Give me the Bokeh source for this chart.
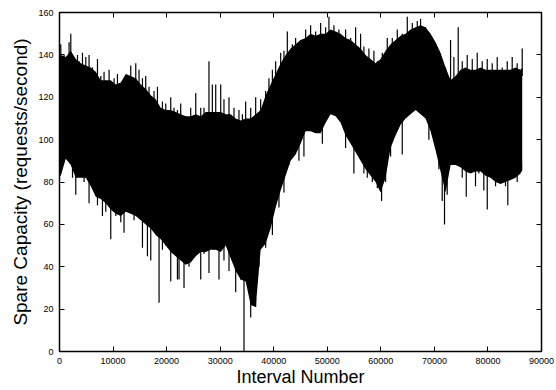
import numpy as np
from bokeh.plotting import figure
from bokeh.models import LinearAxis, Range1d, FixedTicker, ColumnDataSource, CustomLabelingPolicy
from bokeh.embed import file_html
from bokeh.resources import INLINE

# ---- data (interval number, spare capacity) ----
env_x = [0, 240, 1170, 2110, 3040, 3975, 4910, 5840, 6770, 7700, 8640,
         9570, 10500, 11440, 12370, 13300, 14240, 15170, 16100, 17040, 17970,
         18900, 19840, 20770, 21700, 22640, 23570, 24500, 25440, 26370, 27300,
         28240, 29170, 30100, 31040, 31960, 32900, 33830, 34760, 35700, 36640,
         37560, 38500, 39420, 40360, 41300, 42220, 43160, 44090, 45020, 45960,
         46890, 47820, 48760, 49690, 50620, 51560, 52490, 53420, 54360, 55290,
         56220, 57150, 58090, 59020, 59950, 60890, 61820, 62750, 63690, 64620,
         65550, 66490, 67420, 68350, 69290, 70220, 71150, 72090, 73020, 73950,
         74880, 75820, 76750, 77680, 78620, 79550, 80480, 81420, 82350, 83280,
         84220, 85150, 86080, 86400]
# dense part of the band (top edge)
upper = [139, 140, 139, 142, 138, 136, 135, 134, 132, 128, 128,
         128, 126, 127, 131, 130, 129, 126, 124, 121, 119,
         115, 114, 114, 113, 112, 111, 111, 112, 111, 113,
         113, 113, 113, 112, 112, 110, 109, 110, 110, 112,
         114, 121, 126, 131, 136, 140, 143, 145, 147, 148,
         150, 149, 150, 150, 152, 151, 150, 148, 147, 145,
         143, 140, 138, 136, 138, 142, 145, 147, 149, 150,
         152, 153, 154, 153, 150, 146, 141, 134, 128, 130,
         133, 134, 133, 133, 134, 133, 133, 133, 133, 133,
         133, 134, 133, 134]
# dense part of the band (bottom edge)
lower = [83, 83, 91, 88, 82, 82, 82, 78, 73, 72, 70,
         67, 65, 64, 66, 65, 64, 62, 60, 58, 55,
         53, 50, 47, 45, 43, 41, 42, 45, 47, 47,
         48, 48, 47, 50, 44, 38, 34, 33, 22, 21,
         48, 51, 58, 68, 76, 83, 90, 93, 98, 104,
         104, 103, 103, 108, 112, 111, 108, 102, 98, 94,
         90, 86, 83, 80, 75, 82, 96, 102, 107, 110,
         112, 114, 112, 110, 104, 95, 85, 75, 88, 88,
         87, 85, 84, 85, 85, 83, 82, 80, 79, 80,
         81, 82, 84, 86]

# upward spikes: position and highest value
high_spike_x = [240, 860, 1790, 2110, 2720, 3360, 3660, 4290, 4910, 5520,
                6160, 7090, 7710, 8320, 9260, 10190, 10820, 12050, 12690, 13300,
                14240, 14850, 15490, 16100, 16720, 17650, 18290, 19220, 19840, 20770,
                21380, 22020, 22630, 23570, 24500, 25440, 26370, 26980, 27910, 28540,
                29170, 30100, 30710, 31650, 32580, 33510, 34150, 34760, 35700, 36630,
                37560, 38500, 39110, 39750, 40360, 41300, 41910, 42540, 43480, 44090,
                45030, 45960, 46890, 47830, 48760, 49690, 50310, 51240, 52170, 53420,
                54360, 55290, 56220, 56840, 57770, 58710, 59340, 60270, 61200, 62140,
                63070, 64000, 64940, 65870, 66800, 67420, 68350, 69290, 70220, 71150,
                72090, 73020, 73640, 74450, 75200, 76130, 77070, 78000, 78930, 79870,
                80800, 81730, 82670, 83600, 84530, 85460, 86400]
high_spike_v = [145, 140, 146, 150, 139, 140, 137, 141, 139, 140,
                134, 138, 130, 132, 133, 129, 131, 129, 128, 135,
                136, 133, 129, 130, 125, 123, 125, 118, 117, 120,
                115, 114, 117, 111, 115, 122, 115, 115, 137, 126,
                126, 126, 119, 120, 115, 114, 112, 118, 115, 120,
                119, 123, 129, 133, 137, 141, 142, 151, 145, 148,
                147, 152, 154, 151, 155, 153, 158, 154, 152, 152,
                148, 153, 150, 144, 143, 142, 137, 141, 148, 148,
                152, 150, 158, 155, 156, 157, 153, 148, 145, 139,
                134, 147, 139, 153, 137, 140, 138, 141, 137, 138,
                136, 139, 134, 137, 139, 136, 143]
# downward spikes: position and lowest value
low_spike_x = [2430, 3040, 4590, 5520, 6160, 7090, 8020, 8640, 9570, 10510,
               11440, 12050, 12990, 13920, 14850, 15490, 16420, 17040, 17650, 18590,
               19220, 19840, 20770, 21380, 22020, 22320, 23250, 24180, 25120, 26370,
               26980, 27910, 28850, 29780, 30710, 31650, 32900, 33830, 34450, 35700,
               36630, 37250, 38500, 39750, 40980, 41910, 42840, 44710, 45640, 49080,
               53420, 54970, 56840, 57470, 58410, 59340, 60140, 60890, 61820, 64000,
               68970, 70840, 71460, 71890, 72390, 73320, 75200, 75950, 76750, 77680,
               78300, 79230, 79870, 80480, 81420, 82350, 83280, 83710, 84530, 85460,
               86270]
low_spike_v = [82, 74, 80, 70, 77, 69, 64, 66, 53, 64,
               61, 56, 66, 62, 63, 49, 45, 43, 58, 23,
               48, 50, 33, 47, 34, 34, 30, 40, 46, 34,
               46, 37, 48, 34, 43, 38, 28, 34, 0, 16,
               21, 40, 49, 55, 68, 75, 88, 90, 92, 98,
               96, 84, 84, 82, 80, 77, 71, 80, 92, 93,
               100, 86, 71, 60, 74, 88, 82, 73, 85, 78,
               84, 76, 67, 83, 78, 82, 78, 69, 82, 80,
               85]

x_ticks = [0, 10000, 20000, 30000, 40000, 50000, 60000, 70000, 80000, 90000]
y_ticks = [0, 20, 40, 60, 80, 100, 120, 140, 160]

FONT = "Liberation Sans"

p = figure(frame_width=482, frame_height=339,
           x_range=Range1d(0, 90000), y_range=Range1d(0, 160),
           output_backend="svg", toolbar_location=None,
           min_border_left=59, min_border_right=15, min_border_top=12, min_border_bottom=39)
p.background_fill_color = "white"
p.border_fill_color = "white"
p.outline_line_color = "black"
p.outline_line_width = 1.5
p.grid.visible = False

src = ColumnDataSource(dict(x=env_x, lo=lower, hi=upper))
p.varea(x="x", y1="lo", y2="hi", source=src, fill_color="black")

lo_base = np.minimum(np.interp(low_spike_x, env_x, lower) + 4, 150)
hi_base = np.interp(high_spike_x, env_x, upper) - 4
p.segment(x0=low_spike_x, y0=list(lo_base), x1=low_spike_x, y1=low_spike_v,
          line_color="black", line_width=1.2)
p.segment(x0=high_spike_x, y0=list(hi_base), x1=high_spike_x, y1=high_spike_v,
          line_color="black", line_width=1.2)

def style(ax, labels=True):
    ax.major_tick_in = 5
    ax.major_tick_out = 0
    ax.minor_tick_line_color = None
    ax.axis_line_color = None
    ax.major_tick_line_color = "black"
    ax.major_tick_line_width = 1
    if labels:
        ax.major_label_text_font = FONT
        ax.major_label_text_font_size = "9px"
        ax.major_label_text_color = "black"
        ax.axis_label_text_font = FONT
        ax.axis_label_text_font_style = "normal"
        ax.axis_label_text_color = "black"
    else:
        ax.major_label_standoff = 0
        ax.major_label_text_font_size = "1px"
        ax.major_label_policy = CustomLabelingPolicy(
            code="for (let i = 0; i < indices.size; i++) { indices.unset(i) } return indices")

p.xaxis.ticker = FixedTicker(ticks=x_ticks)
p.yaxis.ticker = FixedTicker(ticks=y_ticks)
p.xaxis.axis_label = "Interval Number"
p.yaxis.axis_label = "Spare Capacity (requests/second)"
style(p.xaxis[0])
style(p.yaxis[0])
p.xaxis.axis_label_text_font_size = "18px"
p.yaxis.axis_label_text_font_size = "19px"
p.xaxis.major_label_standoff = 6
p.yaxis.major_label_standoff = 6
p.xaxis.axis_label_standoff = 0
p.yaxis.axis_label_standoff = 4

top = LinearAxis(ticker=FixedTicker(ticks=x_ticks))
style(top, labels=False)
p.add_layout(top, "above")
right = LinearAxis(ticker=FixedTicker(ticks=y_ticks))
style(right, labels=False)
p.add_layout(right, "right")

open("out.html", "w").write(file_html(p, INLINE))
